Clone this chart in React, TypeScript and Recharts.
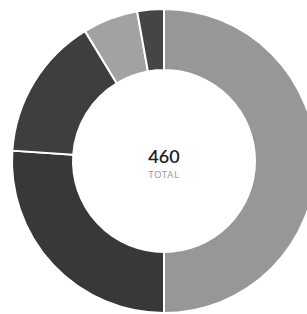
import React from "react";
import { PieChart, Pie, Cell } from "recharts";

const categories = ["A", "B", "C", "D", "E"];
const values = [230, 120, 70, 27, 13];
const colors = ["#979797", "#383838", "#3e3e3e", "#a2a2a2", "#454545"];
const totalLabel = "TOTAL";

const data = categories.map((name, i) => ({ name, value: values[i] }));
const total = values.reduce((a, b) => a + b, 0);

const CX = 164;
const CY = 161;

export default function App() {
  return (
    <div style={{ position: "absolute", left: 0, top: 0, width: 307, height: 314, background: "#fff", overflow: "hidden" }}>
      <PieChart width={307} height={314} margin={{ top: 0, right: 0, bottom: 0, left: 0 }}>
        <Pie
          data={data}
          dataKey="value"
          cx={CX}
          cy={CY}
          innerRadius={91}
          outerRadius={152}
          startAngle={90}
          endAngle={-270}
          stroke="#fff"
          strokeWidth={2}
          isAnimationActive={false}
        >
          {data.map((d, i) => (
            <Cell key={d.name} fill={colors[i]} />
          ))}
        </Pie>
      </PieChart>
      <div
        style={{
          position: "absolute",
          left: CX - 40,
          width: 80,
          top: CY - 14,
          textAlign: "center",
          fontFamily: "Lato, sans-serif",
          lineHeight: 1,
        }}
      >
        <div style={{ fontSize: 18, fontWeight: 600, color: "#1e1e1e" }}>{total}</div>
        <div style={{ fontSize: 9, letterSpacing: 0.8, color: "#9a9a9a", marginTop: 5 }}>{totalLabel}</div>
      </div>
    </div>
  );
}
